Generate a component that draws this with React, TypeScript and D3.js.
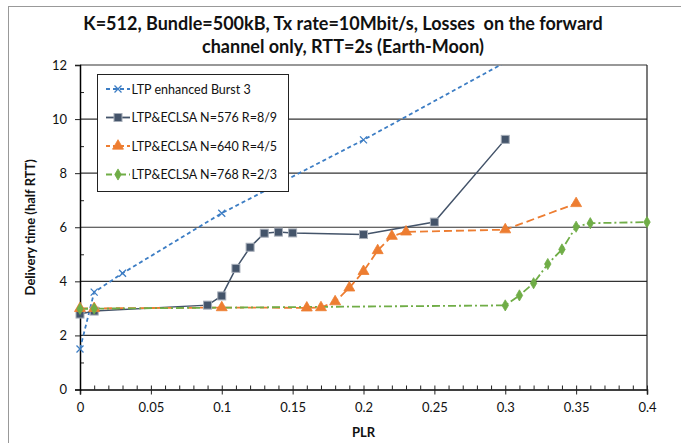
import * as d3 from 'd3';
import { useEffect, useRef } from 'react';

const titleLines = [
  'K=512, Bundle=500kB, Tx rate=10Mbit/s, Losses  on the forward',
  'channel only, RTT=2s (Earth-Moon)',
];
const xTicks = [0, 0.05, 0.1, 0.15, 0.2, 0.25, 0.3, 0.35, 0.4];
const yTicks = [0, 2, 4, 6, 8, 10, 12];

const seriesNames = [
  'LTP enhanced Burst 3',
  'LTP&ECLSA N=576 R=8/9',
  'LTP&ECLSA N=640 R=4/5',
  'LTP&ECLSA N=768 R=2/3',
];

const burstPlr = [0, 0.01, 0.03, 0.1, 0.2, 0.3];
const burstTime = [1.5, 3.6, 4.3, 6.52, 9.23, 12.1];

const n576Plr = [0, 0.01, 0.09, 0.1, 0.11, 0.12, 0.13, 0.14, 0.15, 0.2, 0.25, 0.3];
const n576Time = [2.79, 2.9, 3.12, 3.46, 4.48, 5.26, 5.78, 5.82, 5.79, 5.73, 6.19, 9.25];

const n640Plr = [0, 0.01, 0.1, 0.16, 0.17, 0.18, 0.19, 0.2, 0.21, 0.22, 0.23, 0.3, 0.35];
const n640Time = [3.0, 3.0, 3.03, 3.02, 3.03, 3.25, 3.76, 4.37, 5.14, 5.67, 5.83, 5.91, 6.88];

const n768Plr = [0, 0.01, 0.3, 0.31, 0.32, 0.33, 0.34, 0.35, 0.36, 0.4];
const n768Time = [2.98, 2.99, 3.11, 3.48, 3.93, 4.64, 5.18, 6.02, 6.15, 6.19];

const colors = ['#3c7dc4', '#44546a', '#ed7d31', '#70ad47'];
const dashes = ['4,3', null, '8,4', '8,3,2,3'];
const markers = ['x', 'square', 'triangle', 'diamond'];

export default function App() {
  const svgRef = useRef<SVGSVGElement>(null);
  const w = 681;
  const h = 443;

  useEffect(() => {
    if (svgRef.current == null) {
      return;
    }
    const svg = d3.select(svgRef.current);
    svg.selectAll('*').remove();
    const font = 'Lato, "Open Sans", sans-serif';

    const xScale = d3.scaleLinear().domain([0, 0.4]).range([80, 647]);
    const yScale = d3.scaleLinear().domain([0, 12]).range([389.5, 65]);

    // outer chart frame (cut off at right and bottom)
    svg
      .append('rect')
      .attr('x', 8.5)
      .attr('y', 6.5)
      .attr('width', w + 20)
      .attr('height', h + 20)
      .attr('fill', 'white')
      .attr('stroke', '#999')
      .attr('stroke-width', 1);

    svg
      .append('g')
      .selectAll('text')
      .data(titleLines)
      .join('text')
      .attr('x', 343)
      .attr('y', (_, i) => 30 + i * 23)
      .attr('text-anchor', 'middle')
      .style('font', `bold 18px ${font}`)
      .style('white-space', 'pre')
      .attr('fill', '#111')
      .text((d) => d);

    svg
      .append('defs')
      .append('clipPath')
      .attr('id', 'plot-clip')
      .append('rect')
      .attr('x', 80)
      .attr('y', 65)
      .attr('width', 567)
      .attr('height', 324.5);

    // grid lines
    svg
      .append('g')
      .selectAll('line')
      .data(yTicks.filter((t) => t > 0))
      .join('line')
      .attr('x1', 80)
      .attr('x2', 647)
      .attr('y1', (d) => yScale(d))
      .attr('y2', (d) => yScale(d))
      .attr('stroke', '#333')
      .attr('stroke-width', 1.2);

    // right border of plot area
    svg
      .append('line')
      .attr('x1', 647)
      .attr('x2', 647)
      .attr('y1', yScale(12))
      .attr('y2', yScale(0))
      .attr('stroke', '#222')
      .attr('stroke-width', 1.2);

    // axes
    const xAxis = svg.append('g').attr('transform', `translate(0, ${yScale(0)})`);
    xAxis
      .call(d3.axisBottom(xScale).tickValues(d3.range(0, 0.401, 0.01)).tickSize(-4).tickFormat(() => ''))
      .call((g) => g.select('.domain').remove());
    xAxis
      .append('g')
      .call(d3.axisBottom(xScale).tickValues(xTicks).tickSize(5).tickPadding(8).tickFormat((d) => `${+(+d).toFixed(2)}`))
      .call((g) => g.select('.domain').attr('stroke-width', 1.5))
      .style('font', `13px ${font}`);

    const yAxis = svg.append('g').attr('transform', 'translate(80, 0)');
    yAxis
      .call(d3.axisRight(yScale).tickValues(d3.range(1, 12, 2)).tickSize(4).tickFormat(() => ''))
      .call((g) => g.select('.domain').remove());
    yAxis
      .append('g')
      .call(d3.axisLeft(yScale).tickValues(yTicks).tickSize(5).tickPadding(8))
      .call((g) => g.select('.domain').attr('stroke-width', 1.5))
      .style('font', `13px ${font}`);
    svg.selectAll('.tick line').attr('stroke', '#222');
    svg.selectAll('.tick text').attr('fill', '#111');

    svg
      .append('text')
      .attr('transform', `translate(35, ${yScale(6)}) rotate(-90)`)
      .attr('text-anchor', 'middle')
      .style('font', `bold 13px ${font}`)
      .attr('fill', '#111')
      .text('Delivery time (half RTT)');

    svg
      .append('text')
      .attr('x', xScale(0.2))
      .attr('y', 437)
      .attr('text-anchor', 'middle')
      .style('font', `bold 13px ${font}`)
      .attr('fill', '#111')
      .text('PLR');

    const drawMarker = (g: d3.Selection<SVGGElement, unknown, null, undefined>, kind: string, cx: number, cy: number, color: string) => {
      if (kind === 'x') {
        g.append('path')
          .attr('d', `M${cx - 3.5},${cy - 3.5}L${cx + 3.5},${cy + 3.5}M${cx - 3.5},${cy + 3.5}L${cx + 3.5},${cy - 3.5}`)
          .attr('stroke', color)
          .attr('stroke-width', 1.3)
          .attr('fill', 'none');
      } else if (kind === 'square') {
        g.append('rect')
          .attr('x', cx - 4)
          .attr('y', cy - 4)
          .attr('width', 8)
          .attr('height', 8)
          .attr('fill', color)
          .attr('stroke', '#a6adb8')
          .attr('stroke-width', 1);
      } else if (kind === 'triangle') {
        g.append('path')
          .attr('d', d3.symbol(d3.symbolTriangle, 52)())
          .attr('transform', `translate(${cx},${cy})`)
          .attr('fill', color)
          .attr('stroke', color)
          .attr('stroke-width', 0.8);
      } else {
        g.append('path')
          .attr('d', d3.symbol(d3.symbolDiamond, 36)())
          .attr('transform', `translate(${cx},${cy})`)
          .attr('fill', color)
          .attr('stroke', color)
          .attr('stroke-width', 0.8);
      }
    };

    const allSeries = [
      [burstPlr, burstTime],
      [n576Plr, n576Time],
      [n640Plr, n640Time],
      [n768Plr, n768Time],
    ];
    const line = d3
      .line<[number, number]>()
      .x((d) => xScale(d[0]))
      .y((d) => yScale(d[1]));

    const plot = svg.append('g').attr('clip-path', 'url(#plot-clip)');
    for (const [index, [xs, ys]] of allSeries.entries()) {
      const pts = xs.map((x, i) => [x, ys[i]] as [number, number]);
      plot
        .append('path')
        .attr('d', line(pts))
        .attr('fill', 'none')
        .attr('stroke', colors[index])
        .attr('stroke-width', index === 1 ? 1.5 : 1.8)
        .attr('stroke-dasharray', dashes[index]);
      const mg = svg.append('g');
      for (const [px, py] of pts) {
        if (py > 12) continue;
        drawMarker(mg, markers[index], xScale(px), yScale(py), colors[index]);
      }
    }

    // legend
    const legend = svg.append('g');
    legend
      .append('rect')
      .attr('x', 97.5)
      .attr('y', 74.5)
      .attr('width', 191)
      .attr('height', 117)
      .attr('fill', 'white')
      .attr('stroke', '#222')
      .attr('stroke-width', 1);
    for (const [index, name] of seriesNames.entries()) {
      const cy = 89 + index * 28.5;
      legend
        .append('line')
        .attr('x1', 106)
        .attr('x2', 130)
        .attr('y1', cy)
        .attr('y2', cy)
        .attr('stroke', colors[index])
        .attr('stroke-width', 1.8)
        .attr('stroke-dasharray', index === 1 ? null : index === 3 ? '6,3,2,3' : '4,3');
      drawMarker(legend, markers[index], 118, cy, colors[index]);
      legend
        .append('text')
        .attr('x', 131.5)
        .attr('y', cy + 4.5)
        .style('font', `12.5px ${font}`)
        .attr('fill', '#111')
        .text(name);
    }
  }, []);

  return (
    <svg
      ref={svgRef}
      width={w}
      height={h}
      style={{ position: 'absolute', left: 0, top: 0, background: 'white' }}
    ></svg>
  );
}
